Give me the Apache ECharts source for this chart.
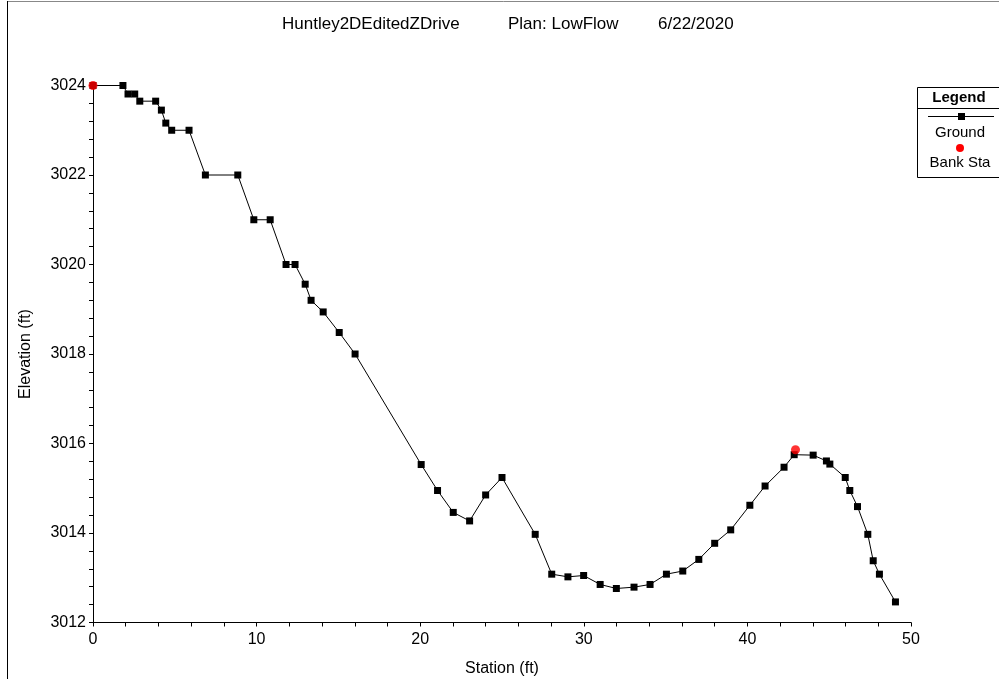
<!DOCTYPE html>
<html>
<head>
<meta charset="utf-8">
<script src="https://cdn.jsdelivr.net/npm/echarts@6/dist/echarts.min.js"></script>
<style>
html,body{margin:0;padding:0;background:#fff;}
#chart{width:999px;height:679px;}
</style>
</head>
<body>
<div id="chart"></div>
<script>
var titleParts = ['Huntley2DEditedZDrive', 'Plan: LowFlow', '6/22/2020'];
var groundStation = [0, 1.83, 2.14, 2.55, 2.86, 3.83, 4.18, 4.45, 4.81, 5.87, 6.87, 8.85, 9.83, 10.83, 11.8, 12.35, 12.97, 13.33, 14.07, 15.05, 16.02,
  20.06, 21.06, 22.02, 23.02, 24.0, 25.0, 27.03, 28.04, 29.03, 29.99, 31.0, 31.99, 33.07, 34.05, 35.05, 36.05, 37.03, 38.0, 38.98, 40.15, 41.08, 42.24, 42.86,
  44.02, 44.83, 45.04, 45.98, 46.26, 46.73, 47.36, 47.69, 48.07, 49.05];
var groundElev = [3024, 3024, 3023.81, 3023.81, 3023.65, 3023.65, 3023.45, 3023.16, 3023, 3023, 3022, 3022, 3021, 3021, 3020, 3020, 3019.56, 3019.2, 3018.94, 3018.48, 3018,
  3015.53, 3014.95, 3014.46, 3014.27, 3014.85, 3015.24, 3013.97, 3013.08, 3013.02, 3013.05, 3012.85, 3012.76, 3012.79, 3012.85, 3013.08, 3013.15, 3013.41, 3013.77, 3014.07, 3014.62, 3015.05, 3015.47, 3015.75,
  3015.74, 3015.61, 3015.54, 3015.24, 3014.95, 3014.59, 3013.97, 3013.38, 3013.08, 3012.46];
var bankStation = [0, 42.94];
var bankElev = [3024, 3015.86];
var xTicks = [0, 10, 20, 30, 40, 50];
var yTicks = [3012, 3014, 3016, 3018, 3020, 3022, 3024];
var legendNames = ['Legend', 'Ground', 'Bank Sta'];

var groundData = groundStation.map(function(s, i){ return [s, groundElev[i]]; });
var bankData = bankStation.map(function(s, i){ return [s, bankElev[i]]; });

var FONT = '"Liberation Sans", Arial, sans-serif';
var titleLefts = [277, 503, 653];
var chart = echarts.init(document.getElementById('chart'), null, {renderer:'canvas'});
chart.setOption({
  backgroundColor: '#fff',
  animation: false,
  title: titleParts.map(function(t, i){
    return {text: t, left: titleLefts[i], top: 11,
      textStyle: {fontFamily: FONT, fontSize: 17, fontWeight: 'normal', color: '#000'}};
  }),
  grid: {left: 93, right: 88, top: 85.5, bottom: 56.5, containLabel: false, outerBoundsMode: 'none'},
  xAxis: {
    type: 'value', min: xTicks[0], max: xTicks[xTicks.length-1], interval: 10,
    name: 'Station (ft)', nameLocation: 'middle', nameGap: 38,
    nameTextStyle: {fontFamily: FONT, fontSize: 16, color: '#000'},
    axisLine: {show: true, onZero: false, lineStyle: {color: '#000', width: 1}},
    axisTick: {show: true, inside: false, length: 4, lineStyle: {color: '#000'}},
    minorTick: {show: true, splitNumber: 5, length: 4, lineStyle: {color: '#000'}},
    axisLabel: {fontFamily: FONT, fontSize: 16, color: '#000', margin: 9},
    splitLine: {show: false}
  },
  yAxis: {
    type: 'value', min: yTicks[0], max: yTicks[yTicks.length-1], interval: 2,
    name: 'Elevation (ft)', nameLocation: 'middle', nameGap: 59, nameRotate: 90,
    nameTextStyle: {fontFamily: FONT, fontSize: 16, color: '#000'},
    axisLine: {show: true, onZero: false, lineStyle: {color: '#000', width: 1}},
    axisTick: {show: true, inside: false, length: 4, lineStyle: {color: '#000'}},
    minorTick: {show: true, splitNumber: 5, length: 4, lineStyle: {color: '#000'}},
    axisLabel: {fontFamily: FONT, fontSize: 16, color: '#000', margin: 7,
      formatter: function(v){ return String(v); }},
    splitLine: {show: false}
  },
  series: [
    {
      name: 'Ground', type: 'line', data: groundData,
      symbol: 'rect', symbolSize: 7, showAllSymbol: true,
      lineStyle: {color: '#000', width: 1},
      itemStyle: {color: '#000'},
      z: 2
    },
    {
      name: 'Bank Sta', type: 'scatter', data: bankData,
      symbol: 'circle', symbolSize: 9,
      itemStyle: {color: '#ff0000'},
      z: 3
    }
  ],
  graphic: [
    {type: 'rect', shape: {x: 7.5, y: 1.5, width: 1000, height: 700}, style: {fill: 'none', stroke: '#888', lineWidth: 1}, silent: true, z: -1},
    {type: 'line', shape: {x1: 7.5, y1: 1, x2: 7.5, y2: 679}, style: {stroke: '#000', lineWidth: 1}, silent: true},
    {type: 'rect', shape: {x: 917.5, y: 87.5, width: 90, height: 90}, style: {fill: '#fff', stroke: '#000', lineWidth: 1}},
    {type: 'line', shape: {x1: 917.5, y1: 108.5, x2: 1000, y2: 108.5}, style: {stroke: '#000', lineWidth: 1}},
    {type: 'text', x: 959, y: 98, style: {text: legendNames[0], font: 'bold 15px ' + FONT, fill: '#000', textAlign: 'center', textVerticalAlign: 'middle'}},
    {type: 'line', shape: {x1: 928, y1: 116.5, x2: 994, y2: 116.5}, style: {stroke: '#000', lineWidth: 1}},
    {type: 'rect', shape: {x: 958, y: 113, width: 7, height: 7}, style: {fill: '#000'}},
    {type: 'text', x: 960, y: 133, style: {text: legendNames[1], font: '15px ' + FONT, fill: '#000', textAlign: 'center', textVerticalAlign: 'middle'}},
    {type: 'circle', shape: {cx: 960, cy: 148, r: 4}, style: {fill: '#ff0000'}},
    {type: 'text', x: 960, y: 163, style: {text: legendNames[2], font: '15px ' + FONT, fill: '#000', textAlign: 'center', textVerticalAlign: 'middle'}}
  ]
});
</script>
</body>
</html>
